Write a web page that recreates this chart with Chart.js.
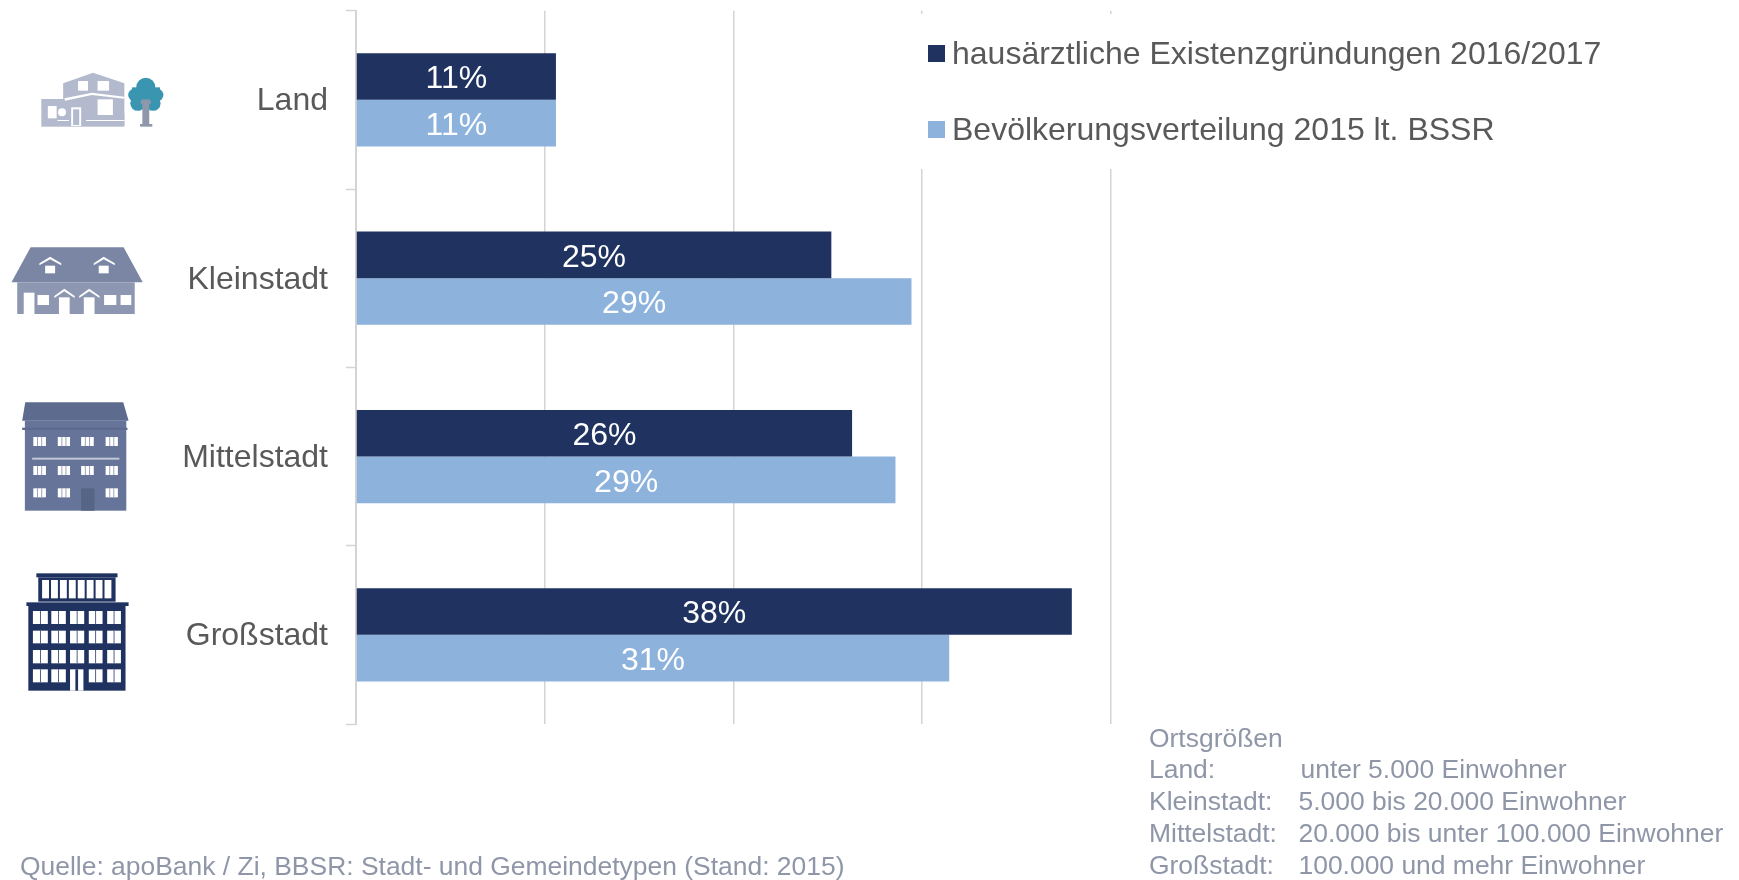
<!DOCTYPE html>
<html lang="de"><head><meta charset="utf-8"><title>Ortsgrößen</title>
<style>html,body{margin:0;padding:0;background:#fff;overflow:hidden}canvas{display:block}</style>
<script src="https://cdn.jsdelivr.net/npm/chart.js@4/dist/chart.umd.min.js"></script>
</head><body><canvas id="c" width="1739" height="880"></canvas>
<script>
const categories = ['Land','Kleinstadt','Mittelstadt','Großstadt'];
const seriesNames = ['hausärztliche Existenzgründungen 2016/2017','Bevölkerungsverteilung 2015 lt. BSSR'];
const gruendungen = [10.6,25.2,26.3,37.95];
const bevoelkerung = [10.6,29.45,28.6,31.45];
const gruendungenLabels = ['11%','25%','26%','38%'];
const bevoelkerungLabels = ['11%','29%','29%','31%'];
const noteTitle = 'Ortsgrößen';
const noteNames = ['Land:','Kleinstadt:','Mittelstadt:','Großstadt:'];
const noteRanges = ['unter 5.000 Einwohner','5.000 bis 20.000 Einwohner','20.000 bis unter 100.000 Einwohner','100.000 und mehr Einwohner'];
const sourceText = 'Quelle: apoBank / Zi, BBSR: Stadt- und Gemeindetypen (Stand: 2015)';
const DARK='#1f3260', LIGHT='#8db3dd', GRID='#d4d4d4', TXT='#595959', NOTE='#8f96a8', F='"Liberation Sans", Arial, sans-serif';

function icons(ctx){
  const X=v=>v/2.613;
  const R=(c,x0,y0,x1,y1,oy=0)=>{ctx.fillStyle=c;ctx.fillRect(X(x0),y0/3+oy,X(x1-x0),(y1-y0)/3);};
  const P=(c,pts,oy=0)=>{ctx.fillStyle=c;ctx.beginPath();pts.forEach((p,i)=>{i?ctx.lineTo(X(p[0]),p[1]/3+oy):ctx.moveTo(X(p[0]),p[1]/3+oy);});ctx.closePath();ctx.fill();};
  const C=(c,x,y,r)=>{ctx.fillStyle=c;ctx.beginPath();ctx.arc(X(x),y/3,r,0,7);ctx.fill();};
  const W='#fff';
  // Land
  const H='#b3bacd';
  P(H,[[243,218],[325,250],[325,378],[165,378],[165,250]]);
  R(H,108,297,182,380); R(H,180,340,325,380);
  R(W,204,243,230,272); R(W,255,243,285,272);
  P(W,[[168,295],[240,278],[325,290],[325,296],[240,285],[170,302]]);
  R(W,255,298,295,345); R(W,125,318,148,355); C(W,162,337,4); R(W,186,322,212,378); R(H,191,328,207,375);
  R(W,225,360,325,363); R(W,150,360,180,363);
  const T='#3a96b0';
  C(T,381,262,9.5);C(T,352,285,6.5);C(T,410,285,6.5);C(T,360,310,7.5);C(T,400,310,7.5);R(T,345,262,418,322);
  R('#8f97aa',372,298,390,378);R('#8f97aa',366,372,398,380);R('#8f97aa',368,300,372,312);R('#8f97aa',390,300,394,312);
  // Kleinstadt
  R('#8d97b1',45,847,352,942);
  P('#7a86a3',[[80,742],[323,742],[373,847],[30,847]]);
  [[131,103,160],[271,245,300]].forEach(([c,a,b])=>{P(W,[[c,770],[b,790],[b,796],[c,778],[a,796],[a,790]]);R(W,c-13,797,c+13,820);});
  R(W,62,878,90,942);R(W,98,885,128,915);R(W,272,885,304,915);R(W,315,885,343,915);
  [[168,142,195],[233,207,260]].forEach(([c,a,b])=>{P(W,[[c,866],[b,888],[b,894],[c,874],[a,894],[a,888]]);R(W,c-14,892,c+14,942);});
  // Mittelstadt
  const M='#5c6b8e',o=380;
  P(M,[[66,67],[322,67],[336,122],[58,122]],o);
  R('#66749a',65,122,330,392,o);R(M,58,143,333,150,o);
  const win=(c,x0,y0,x1,y1,oy,n)=>{R(W,x0,y0,x1,y1,oy);for(let i=1;i<n;i++){const x=x0+(x1-x0)*i/n;R(c,x-1.3,y0,x+1.3,y1,oy);}};
  [[171,198],[258,285],[325,352]].forEach(([a,b],r)=>[[87,120],[151,183],[212,245],[276,308]].forEach(([l,h],k)=>{if(!(r==2&&k==2))win('#9aa3bb',l,a,h,b,o,3);}));
  R('#c3c8d6',84,233,312,239,o);R('#566586',212,325,247,392,o);
  // Großstadt
  R(DARK,95,580,307,592,o);R(DARK,100,592,302,665,o);R(DARK,69,667,336,678,o);R(DARK,74,678,328,932,o);
  for(let i=0;i<8;i++){const l=110+i*23.3;R(W,l,600,l+18,655,o);}
  [[693,732],[752,790],[810,850],[868,907]].forEach(([a,b],r)=>[[86,125],[134,172],[183,220],[232,268],[280,316]].forEach(([l,h],k)=>{
    if(r==3&&k==2){R(W,l,a,h-2,932,o);R(DARK,197,a,204,932,o);}else{R(W,l,a,h,b,o);R(DARK,(l+h)/2-1,a,(l+h)/2+1,b,o);}
  }));
}

const overlay={id:'overlay',beforeDatasetsDraw(chart){
  const ctx=chart.ctx;ctx.save();
  ctx.fillStyle='#fff';ctx.fillRect(905,14,225,155);
  ctx.textBaseline='alphabetic';ctx.textAlign='left';
  [[DARK,45,64],[LIGHT,121,140]].forEach(([c,y,b],i)=>{
    ctx.fillStyle=c;ctx.fillRect(928,y,17,17);
    ctx.fillStyle=TXT;ctx.font='32px '+F;ctx.fillText(seriesNames[i],952,b);
  });
  ctx.fillStyle=NOTE;ctx.font='26.45px '+F;
  ctx.fillText(noteTitle,1149,746.5);
  const xs=[1300.5,1298.5,1298.5,1298.5],ys=[778,810,842,874];
  noteNames.forEach((n,i)=>{ctx.fillText(n,1149,ys[i]);ctx.fillText(noteRanges[i],xs[i],ys[i]);});
  ctx.fillText(sourceText,20,875);
  icons(ctx);
  ctx.restore();
}};
const barLabels={id:'barLabels',afterDatasetsDraw(chart){
  const ctx=chart.ctx,lab=[gruendungenLabels,bevoelkerungLabels];ctx.save();
  ctx.fillStyle='#fff';ctx.font='32px '+F;ctx.textAlign='center';ctx.textBaseline='middle';
  chart.data.datasets.forEach((d,i)=>chart.getDatasetMeta(i).data.forEach((b,j)=>{
    ctx.fillText(lab[i][j],(b.base+b.x)/2,b.y+3);
  }));
  ctx.restore();
}};

new Chart(document.getElementById('c'),{
  type:'bar',
  data:{labels:categories,datasets:[
    {label:seriesNames[0],data:gruendungen,backgroundColor:DARK},
    {label:seriesNames[1],data:bevoelkerung,backgroundColor:LIGHT}]},
  plugins:[overlay,barLabels],
  options:{
    indexAxis:'y',responsive:false,animation:false,devicePixelRatio:1,
    categoryPercentage:0.523,barPercentage:1,
    layout:{padding:{top:10.7,bottom:156,right:628.5,left:0}},
    plugins:{legend:{display:false},tooltip:{enabled:false},title:{display:false}},
    scales:{
      x:{min:0,max:40,ticks:{display:false,stepSize:10},border:{display:false},
         grid:{color:GRID,lineWidth:1.5,drawTicks:false}},
      y:{afterFit(s){s.width=356;s.paddingTop=0;s.paddingBottom=0;},
         ticks:{color:TXT,font:{family:F,size:32},padding:18,labelOffset:1.5},
         border:{color:GRID,width:2},
         grid:{drawOnChartArea:false,drawTicks:true,tickLength:10,tickColor:GRID,tickWidth:1.5}}
    }
  }
});
</script></body></html>
